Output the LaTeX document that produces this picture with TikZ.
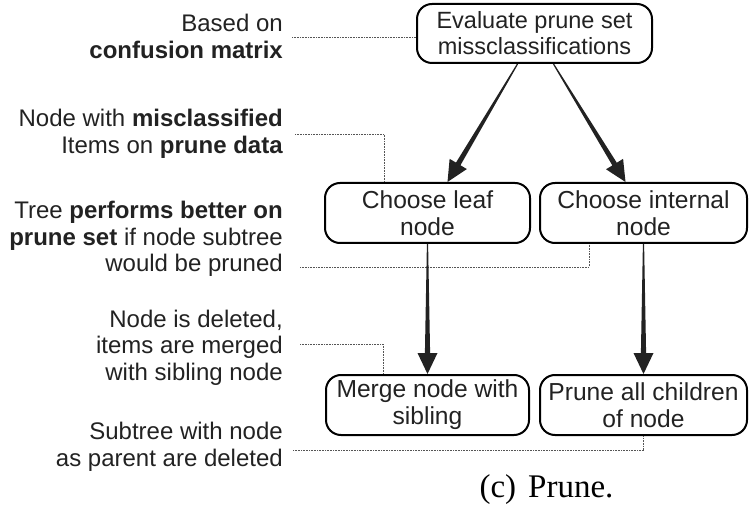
\documentclass[tikz,border=0pt]{standalone}
\usepackage{fontspec}
\setmainfont{Liberation Sans}
\newfontfamily\capfont{Liberation Serif}
\usetikzlibrary{calc}
\definecolor{ink}{HTML}{222222}
\definecolor{guide}{HTML}{555555}
\tikzset{
  stepbox/.style={draw=black, line width=2pt, rounded corners=15pt, align=center,
    inner sep=0pt, minimum height=60pt, text=ink,
    font=\fontsize{24.6}{27}\selectfont},
  note/.style={anchor=east, align=right, inner sep=0pt, text=ink,
    font=\fontsize{24}{26.5}\selectfont},
  guideline/.style={draw=guide, line width=0.7pt, dash pattern=on 1pt off 0.6pt},
  arrowfill/.style={fill=ink},
}
\newcommand\wedgearrow[2]{%
  \path ($(#2)!21pt!(#1)$) coordinate (hb);
  \fill[arrowfill] ($(#1)!0.6pt!90:(#2)$) -- ($(hb)!2.6pt!-90:(#1)$) --
    ($(hb)!10pt!-90:(#1)$) -- (#2) -- ($(hb)!10pt!90:(#1)$) --
    ($(hb)!2.6pt!90:(#1)$) -- ($(#1)!0.6pt!-90:(#2)$) -- cycle;}
\begin{document}
\begin{tikzpicture}[x=1pt,y=-1pt]
\useasboundingbox (0,0) rectangle (749,529);
% boxes
\node[stepbox, minimum width=235pt, minimum height=59pt, font=\fontsize{23.5}{26}\selectfont] (top) at (534.5,33.5) {Evaluate prune set\\missclassifications};
\node[stepbox, minimum width=205pt] (leaf) at (427.5,213) {Choose leaf\\node};
\node[stepbox, minimum width=207pt] (internal) at (643.5,213) {Choose internal\\node};
\node[stepbox, minimum width=203pt] (merge) at (427.5,405) {Merge node with\\sibling};
\node[stepbox, minimum width=207pt] (prune) at (643.5,405) {Prune all children\\of node};
% notes
\node[note] (n1) at (283,36.5) {Based on\\\textbf{confusion matrix}};
\node[note] (n2) at (283,134) {Node with \textbf{misclassified}\\Items on \textbf{prune data}};
\node[note] (n3) at (283,239) {Tree \textbf{performs better on}\\\textbf{prune set} if node subtree\\would be pruned};
\node[note] (n4) at (283,347.5) {Node is deleted,\\items are merged\\with sibling node};
\node[note] (n5) at (283,447) {Subtree with node\\as parent are deleted};
% caption
\node[inner sep=0pt, font=\capfont\fontsize{33}{36}\selectfont] (cap) at (546.5,490) {(c)\hspace{12pt}Prune.};
% guide coordinates
\coordinate (g1) at (292,37);
\coordinate (g2) at (295,134);
\coordinate (g3) at (300,267);
\coordinate (g4) at (300,344);
\coordinate (g5) at (293,450);
\draw[guideline] (g1) -- (g1 -| top.west);
\draw[guideline] (g2) -| ([xshift=60pt]leaf.north west);
\draw[guideline] (g3) -| ([xshift=50pt]internal.south west);
\draw[guideline] (g4) -| ([xshift=58pt]merge.north west);
\draw[guideline] (g5) -| (prune.south);
% arrows
\coordinate (a1s) at ([xshift=-17pt]top.south);
\coordinate (a1e) at ([xshift=20pt]leaf.north);
\coordinate (a2s) at ([xshift=19pt]top.south);
\coordinate (a2e) at ([xshift=-18pt]internal.north);
\wedgearrow{a1s}{a1e}
\wedgearrow{a2s}{a2e}
\wedgearrow{leaf.south}{merge.north}
\wedgearrow{internal.south}{prune.north}
\end{tikzpicture}
\end{document}
